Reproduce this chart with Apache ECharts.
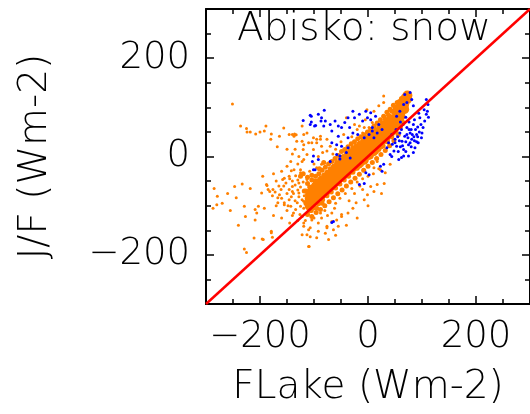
<!DOCTYPE html>
<html>
<head>
<meta charset="utf-8" />
</head>
<body style="margin: 0">
<div id="container" style="width: 530px; height: 414px"></div>
<script src="https://cdn.jsdelivr.net/npm/echarts@6/dist/echarts.min.js"></script>
<script>
var majorTicks = [-200, 0, 200];
var minorTicks = [-250, -150, -100, -50, 50, 100, 150, 250];
var lineX = [-300, 300];

// dense centre of the orange cloud
var orangeCore = [
  [-108, -100], [-108, -86], [-106, -74], [-98, -90], [-98, -76], [-97, -62],
  [-88, -80], [-89, -66], [-87, -52], [-78, -70], [-78, -56], [-77, -42],
  [-68, -60], [-68, -46], [-67, -32], [-58, -50], [-58, -36], [-57, -22],
  [-48, -40], [-48, -26], [-47, -12], [-38, -31], [-38, -17], [-37, -3],
  [-28, -22], [-28, -8], [-27, 6], [-18, -15], [-18, -1], [-17, 13],
  [-8, -7], [-8, 7], [-7, 21], [2, 3], [2, 17], [3, 31],
  [12, 13], [12, 27], [13, 41], [22, 24], [22, 38], [23, 52],
  [32, 36], [32, 50], [33, 64], [42, 50], [42, 63], [43, 76],
  [52, 64], [52, 77], [53, 90], [60, 82], [60, 93], [61, 104],
  [67, 96], [67, 106], [68, 115], [72, 116], [73, 124]
];

// looser points round the centre
var orangeFuzz = [
  [-115, -70], [-112, -55], [-108, -62], [-104, -48], [-100, -58], [-97, -40],
  [-94, -50], [-91, -35], [-88, -44], [-85, -28], [-82, -38], [-79, -22],
  [-76, -32], [-73, -15], [-70, -25], [-67, -10], [-64, -20], [-61, -4],
  [-58, -12], [-55, 2], [-52, -6], [-49, 10], [-46, 0], [-43, 14],
  [-40, 6], [-37, 20], [-34, 12], [-31, 26], [-28, 18], [-25, 30],
  [-22, 22], [-19, 36], [-16, 27], [-13, 40], [-10, 32], [-7, 44],
  [-4, 38], [-1, 50], [2, 42], [5, 55], [8, 48], [11, 62],
  [14, 55], [17, 68], [20, 62], [23, 75], [26, 68], [29, 82],
  [32, 76], [35, 90], [38, 84], [41, 96], [44, 92], [47, 104],
  [50, 100], [54, 110], [58, 112], [62, 118], [66, 122],
  [-112, -118], [-108, -110], [-104, -122], [-100, -104], [-96, -114], [-92, -96],
  [-88, -108], [-84, -88], [-80, -100], [-76, -80], [-72, -92], [-68, -72],
  [-64, -84], [-60, -64], [-56, -76], [-52, -56], [-48, -68], [-44, -48],
  [-40, -60], [-36, -40], [-32, -52], [-28, -32], [-24, -44], [-20, -24],
  [-16, -36], [-12, -16], [-8, -28], [-4, -8], [0, -20], [4, 0],
  [8, -12], [12, 6], [16, -4], [20, 14], [24, 4], [28, 22],
  [32, 12], [36, 30], [40, 22], [44, 40], [48, 32], [52, 50],
  [56, 44], [60, 60], [64, 70],
  [-125, -40], [-120, -35], [-112, -42], [-104, -38], [-98, -50], [-90, -25],
  [-82, -12], [-118, -70], [-112, -78], [-115, -95], [-108, -88], [-100, -80],
  [-95, -70], [-90, -85], [-85, -95], [-95, -105], [-105, -110]
];

// scattered orange points
var orangeSparse = [
  [-251, 107], [-236, 62], [-225, 57], [-224, 50], [-218, 50], [-208, 46],
  [-200, 50], [-192, 52], [-189, 62], [-179, 46], [-164, 41], [-156, 58],
  [-146, 45], [-140, 45], [-136, 46], [-133, 44], [-137, 41], [-132, 31],
  [-119, 24], [-120, 14], [-104, 28], [-95, 35], [-88, 41], [-122, -10],
  [-125, -27], [-142, -29], [-134, -39], [-155, -44], [-152, -54], [-161, -67],
  [-146, -67], [-138, -75], [-170, -50], [-188, -57], [-182, -71], [-177, -80],
  [-167, -84], [-155, -98], [-146, -88], [-131, -94], [-119, -105], [-113, -118],
  [-119, -135], [-110, -149], [-107, -163], [-122, -159], [-109, -183],
  [-285, -65], [-279, -81], [-280, -98], [-287, -105], [-270, -95], [-247, -61],
  [-244, -84], [-233, -56], [-229, -101], [-218, -65], [-203, -101], [-209, -129],
  [-211, -166], [-229, -188], [-225, -195], [-192, -105], [-187, -59], [-185, -67],
  [-179, -155], [-177, -164], [-227, -122], [-196, -168], [-194, -169], [-179, -152],
  [-206, -115], [-209, -108], [-197, -74], [-176, -67], [-164, -78], [-155, -94],
  [-167, -94], [-140, -71], [-143, -101], [-134, -108], [-122, -122], [-119, -142],
  [-107, -145], [-113, -159], [-92, -152], [-76, -142], [-79, -156], [-73, -169],
  [-128, -54], [-113, -47], [-125, -33], [-146, -40], [-158, -47], [-137, -27],
  [-104, -67], [-98, -94], [-88, -115], [-67, -115], [-58, -129], [-49, -118],
  [-110, -183], [-76, -145], [-64, -149], [-55, -142], [-67, -132], [-49, -122],
  [-37, -115], [-28, -105], [-22, -94], [-7, -88], [-1, -78], [11, -71],
  [5, -61], [17, -57], [-10, -67], [-119, -91], [-125, -101], [-104, -129],
  [-92, -135], [-128, -74], [-140, -61], [-122, -88],
  [-122, 62], [-119, 45], [-113, 48], [-122, 31], [-110, 28], [-101, 38],
  [-95, 28], [-88, 35], [-86, 21], [-76, 35], [-70, 21], [-101, 14],
  [-113, 4], [-119, -6], [-76, 11], [-40, 79], [-25, 65], [-16, 62],
  [-7, 59], [-10, 48], [2, 59], [8, 69], [-2, 95], [-16, 28],
  [-28, 11], [-43, -3], [-70, -10], [-86, -16], [-95, -23],
  [29, 123], [29, 110], [11, 92], [20, 103], [17, -10], [23, -27],
  [11, -23], [41, -16], [32, -33],
  [-145, -45], [-140, -50], [-135, -58], [-130, -48], [-125, -62], [-120, -52],
  [-128, -82], [-135, -90], [-80, -110], [-130, -68], [-142, -82], [-150, -75],
  [-156, -60], [-165, -60], [-172, -72], [-148, -100], [-138, -115], [-126, -118],
  [-116, -130], [-100, -125], [-86, -125], [-75, -120], [-62, -105], [-52, -85],
  [-42, -75], [-30, -65], [-20, -52], [-10, -45], [0, -40], [10, -35], [20, -25],
  [-160, -30], [-150, -20], [-143, -10], [-130, -15], [-128, 0], [-140, 5],
  [-150, 15], [-135, 15], [-160, -85], [-150, -110], [-140, -120], [-130, -130],
  [-170, -100], [-175, -120], [-160, -125], [-145, -135], [-95, -165], [-60, -160],
  [-40, -140], [-20, -125], [0, -100], [25, -75], [30, -55], [-108, -30],
  [-100, -15], [-92, 0], [-84, 8], [-65, 5], [-60, 15], [-50, 30],
  [-45, 45], [-30, 40], [-20, 55], [-5, 75], [-60, -95], [-35, -90],
  [-25, -75], [-15, -60], [-118, -80], [-260, -75], [-255, -110], [-240, -140],
  [-195, -40], [-175, -35], [-168, 20], [-180, 35]
];

var bluePoints = [
  [-120, 73], [-107, 84], [-105, 70], [-97, 63], [-92, 86], [-87, 72],
  [-81, 94], [-105, 82], [-107, 65], [-99, 62], [-86, 79], [-79, 72],
  [-82, 62], [-70, 65], [-67, 52], [-61, 72], [-55, 62], [-49, 59],
  [-43, 69], [-37, 79], [-28, 92], [-25, 79], [-16, 86], [-10, 72],
  [-1, 79], [5, 89], [14, 82], [-34, 59], [-28, 48], [-19, 45],
  [-37, 38], [-55, 41], [-67, 28], [-58, 24], [-49, 21], [-37, 18],
  [-58, 4], [-52, 1], [-101, 1], [-92, -6], [-7, 38], [8, 52],
  [-4, 92], [-103, -10], [-98, -27], [-101, -27], [-70, -10], [-64, -132],
  [-67, -134], [-16, -57], [-7, -55], [-4, -33], [2, -37], [-52, -5],
  [-40, 8], [-33, -3],
  [5, 75], [8, 59], [20, 65], [2, 45], [17, 48], [26, 55], [11, 38],
  [68, 126], [78, 130], [81, 116], [72, 110], [66, 106], [59, 92],
  [53, 82], [84, 103], [111, 106], [108, 116],
  [38, 28], [44, 45], [50, 35], [53, 21], [59, 48], [63, 31],
  [66, 14], [68, 41], [72, 59], [75, 24], [78, 48], [81, 35],
  [84, 65], [87, 18], [90, 45], [93, 28], [96, 79], [102, 59],
  [105, 72], [108, 86], [99, 38], [66, 1], [57, -6], [48, 11],
  [41, 4], [35, 18], [84, 8], [75, 1], [29, -16], [23, -20],
  [26, -30], [50, 28], [45, 25], [55, 40], [60, 20], [70, 30],
  [72, 45], [80, 55], [85, 40], [88, 55], [92, 60], [95, 50],
  [98, 65], [100, 48], [62, 55], [65, 65], [56, 10], [70, 10],
  [80, 20], [90, 30], [62, -2], [44, 0], [52, 55], [76, 70],
  [86, 75], [94, 88], [104, 95], [110, 92], [112, 80], [60, 70], [70, 80],
  [58, 32], [64, 22], [74, 38], [78, 28], [82, 45], [86, 32], [92, 40], [76, 55]
];

var font = 'DejaVu Sans';
var ink = '#000';

function axis(pos, ticks, len, main) {
  var a = {
    type: 'value',
    position: pos,
    min: -300,
    max: 300,
    axisLine: { show: main, onZero: false, lineStyle: { color: ink, width: 2 } },
    axisTick: { show: true, inside: true, length: len, customValues: ticks,
      lineStyle: { color: ink, width: 1.5 } },
    axisLabel: { show: false },
    splitLine: { show: false }
  };
  if (main && (pos === 'bottom' || pos === 'left')) {
    a.axisLabel = {
      show: true, customValues: majorTicks, color: ink,
      fontFamily: font, fontSize: 37, fontWeight: 200,
      margin: pos === 'left' ? 16 : 15,
      formatter: function (v) { return String(v).replace('-', '\u2212'); }
    };
  }
  return a;
}

var xBottom = axis('bottom', majorTicks, 8, true);
xBottom.name = 'FLake (Wm-2)';
xBottom.nameLocation = 'middle';
xBottom.nameGap = 64;
xBottom.nameTextStyle = { fontFamily: font, fontSize: 39, fontWeight: 200, color: ink };

var yLeft = axis('left', majorTicks, 8, true);
yLeft.name = 'J/F (Wm-2)';
yLeft.nameLocation = 'middle';
yLeft.nameGap = 151;
yLeft.nameTextStyle = { fontFamily: font, fontSize: 39, fontWeight: 200, color: ink };

var myChart = echarts.init(document.getElementById('container'));
var option = {
  animation: false,
  backgroundColor: '#fff',
  title: {
    text: 'Abisko: snow',
    left: 232,
    top: 5,
    textStyle: { fontFamily: font, fontSize: 39, fontWeight: 200, color: ink }
  },
  grid: { left: 206, top: 9, width: 330, height: 295 },
  xAxis: [
    xBottom,
    axis('bottom', minorTicks, 5, false),
    axis('top', majorTicks, 8, true),
    axis('top', minorTicks, 5, false)
  ],
  yAxis: [
    yLeft,
    axis('left', minorTicks, 5, false),
    axis('right', majorTicks, 8, true),
    axis('right', minorTicks, 5, false)
  ],
  series: [
    {
      type: 'scatter', data: orangeCore, symbolSize: 10, silent: true,
      itemStyle: { color: '#ff8000', opacity: 1 }
    },
    {
      type: 'scatter', data: orangeFuzz, symbolSize: 5, silent: true,
      itemStyle: { color: '#ff8000', opacity: 1 }
    },
    {
      type: 'scatter', data: orangeSparse, symbolSize: 3, silent: true,
      itemStyle: { color: '#ff8000', opacity: 1 }
    },
    {
      type: 'scatter', data: bluePoints, symbolSize: 3, silent: true,
      itemStyle: { color: '#0000ff', opacity: 1 }
    },
    {
      type: 'line', data: [[lineX[0], lineX[0]], [lineX[1], lineX[1]]],
      symbol: 'none', silent: true,
      lineStyle: { color: '#ff0000', width: 2.5 }
    }
  ]
};
myChart.setOption(option);
</script>
</body>
</html>
